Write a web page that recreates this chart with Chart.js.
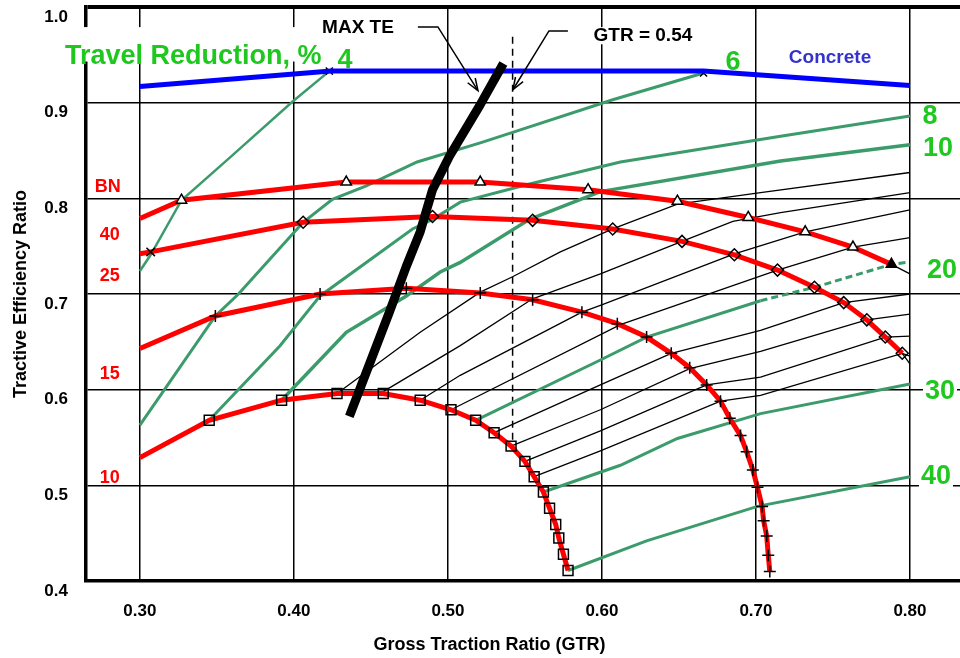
<!DOCTYPE html>
<html>
<head>
<meta charset="utf-8">
<script src="https://cdn.jsdelivr.net/npm/chart.js@4.4.1/dist/chart.umd.min.js"></script>
<style>
  html, body { margin: 0; padding: 0; background: #fff; }
  #wrap { width: 960px; height: 658px; }
</style>
</head>
<body>
<div id="wrap"><canvas id="techart"></canvas></div>
<script>
// axis ticks
var xTicks = [0.30, 0.40, 0.50, 0.60, 0.70, 0.80];
var yTicks = [0.4, 0.5, 0.6, 0.7, 0.8, 0.9, 1.0];

// concrete surface
var concrete = [[0.300, 0.917], [0.424, 0.933], [0.666, 0.933], [0.800, 0.918]];

// mobility number (BN) curves, [GTR, TE]
var bn40 = [[0.300, 0.779], [0.327, 0.798], [0.434, 0.817], [0.521, 0.817], [0.591, 0.809], [0.649, 0.797],
            [0.695, 0.780], [0.732, 0.765], [0.763, 0.749], [0.788, 0.731]];
var bn25 = [[0.300, 0.742], [0.307, 0.744], [0.406, 0.775], [0.490, 0.781], [0.555, 0.777], [0.607, 0.768],
            [0.652, 0.755], [0.686, 0.741], [0.714, 0.725], [0.738, 0.707], [0.757, 0.691], [0.772, 0.673],
            [0.784, 0.655], [0.795, 0.638]];
var bn15 = [[0.300, 0.643], [0.349, 0.677], [0.417, 0.700], [0.473, 0.706], [0.521, 0.701], [0.555, 0.694],
            [0.587, 0.681], [0.610, 0.669], [0.629, 0.655], [0.645, 0.638], [0.657, 0.623], [0.668, 0.605],
            [0.677, 0.588], [0.683, 0.570], [0.690, 0.552], [0.694, 0.535], [0.698, 0.516], [0.701, 0.498],
            [0.704, 0.478], [0.705, 0.463], [0.707, 0.447], [0.708, 0.427], [0.709, 0.410]];
var bn10 = [[0.300, 0.529], [0.345, 0.568], [0.392, 0.589], [0.428, 0.596], [0.458, 0.596], [0.482, 0.589],
            [0.502, 0.579], [0.518, 0.568], [0.530, 0.555], [0.541, 0.541], [0.550, 0.525], [0.556, 0.509],
            [0.562, 0.493], [0.566, 0.476], [0.570, 0.459], [0.572, 0.445], [0.575, 0.428], [0.578, 0.411]];
var bn40Tail = [[0.788, 0.731], [0.800, 0.721]];
var bn25Tail = [[0.795, 0.638], [0.800, 0.627]];

// travel reduction lines, %
var tr4  = [[0.300, 0.724], [0.307, 0.741], [0.327, 0.798], [0.358, 0.842], [0.399, 0.901], [0.423, 0.933]];
var tr6  = [[0.300, 0.563], [0.349, 0.677], [0.364, 0.700], [0.406, 0.775], [0.425, 0.799], [0.447, 0.813],
            [0.480, 0.838], [0.521, 0.858], [0.542, 0.869], [0.607, 0.903], [0.666, 0.931]];
var tr8  = [[0.345, 0.568], [0.391, 0.646], [0.417, 0.698], [0.477, 0.768], [0.490, 0.778], [0.508, 0.796],
            [0.553, 0.815], [0.612, 0.838], [0.716, 0.865], [0.800, 0.886]];
var tr10 = [[0.392, 0.589], [0.434, 0.660], [0.473, 0.698], [0.495, 0.723], [0.508, 0.733], [0.553, 0.778],
            [0.599, 0.807], [0.716, 0.839], [0.800, 0.856]];
var tr12 = [[0.428, 0.596], [0.482, 0.660], [0.521, 0.702], [0.542, 0.718], [0.573, 0.744], [0.607, 0.768],
            [0.649, 0.794], [0.703, 0.806], [0.800, 0.827]];
var tr14 = [[0.458, 0.598], [0.508, 0.646], [0.555, 0.695], [0.599, 0.721], [0.652, 0.755], [0.685, 0.776],
            [0.716, 0.785], [0.800, 0.806]];
var tr16 = [[0.482, 0.589], [0.508, 0.615], [0.587, 0.681], [0.599, 0.688], [0.686, 0.742], [0.732, 0.765],
            [0.800, 0.788]];
var tr18 = [[0.502, 0.579], [0.612, 0.668], [0.714, 0.725], [0.763, 0.749], [0.800, 0.759]];
var tr20 = [[0.518, 0.568], [0.599, 0.631], [0.629, 0.655], [0.703, 0.693], [0.738, 0.707], [0.788, 0.731],
            [0.798, 0.733]];
var tr22 = [[0.530, 0.555], [0.599, 0.605], [0.645, 0.638], [0.703, 0.662], [0.757, 0.691], [0.800, 0.700]];
var tr24 = [[0.541, 0.541], [0.599, 0.579], [0.657, 0.622], [0.703, 0.640], [0.772, 0.673], [0.800, 0.679]];
var tr26 = [[0.550, 0.525], [0.599, 0.557], [0.668, 0.605], [0.703, 0.613], [0.784, 0.655], [0.800, 0.656]];
var tr28 = [[0.556, 0.509], [0.599, 0.536], [0.677, 0.588], [0.703, 0.594], [0.795, 0.638], [0.800, 0.635]];
var tr30 = [[0.562, 0.493], [0.612, 0.521], [0.649, 0.549], [0.703, 0.575], [0.800, 0.606]];
var tr40 = [[0.578, 0.411], [0.629, 0.442], [0.701, 0.478], [0.800, 0.509]];

// max tractive efficiency line and GTR = 0.54 marker
var maxTE = [[0.436, 0.572], [0.462, 0.681], [0.473, 0.729], [0.482, 0.765], [0.490, 0.809], [0.501, 0.844],
             [0.521, 0.898], [0.536, 0.941]];
var gtrLine = [[0.542, 0.969], [0.542, 0.542]];

var FONT = '"Liberation Sans", Arial, Helvetica, sans-serif';
var GREEN_LINE = '#3b9b6b';
var GREEN_TEXT = '#1ec81e';
var RED = '#ff0000';

function pts(a) { return a.map(function (p) { return { x: p[0], y: p[1] }; }); }
function fill(n, first, rest) { var r = [first]; for (var i = 1; i < n; i++) r.push(rest); return r; }

var notes = [
  { t: 'Travel Reduction, %', x: 0.2513, y: 0.948, c: GREEN_TEXT, s: 27, a: 'left' },
  { t: '4', x: 0.4331, y: 0.944, c: GREEN_TEXT, s: 27 },
  { t: '6', x: 0.6851, y: 0.942, c: GREEN_TEXT, s: 27 },
  { t: '8', x: 0.8130, y: 0.886, c: GREEN_TEXT, s: 27 },
  { t: '10', x: 0.8182, y: 0.852, c: GREEN_TEXT, s: 27 },
  { t: '20', x: 0.8208, y: 0.724, c: GREEN_TEXT, s: 27 },
  { t: '30', x: 0.8195, y: 0.598, c: GREEN_TEXT, s: 27, bg: true },
  { t: '40', x: 0.8169, y: 0.509, c: GREEN_TEXT, s: 27, bg: true },
  { t: 'Concrete', x: 0.7481, y: 0.947, c: '#3333cc', s: 19 },
  { t: 'MAX TE', x: 0.4416, y: 0.978, c: '#000', s: 19 },
  { t: 'GTR = 0.54', x: 0.6266, y: 0.970, c: '#000', s: 19, bg: true },
  { t: 'BN', x: 0.2792, y: 0.8115, c: RED, s: 18 },
  { t: '40', x: 0.2805, y: 0.7615, c: RED, s: 18 },
  { t: '25', x: 0.2805, y: 0.7188, c: RED, s: 18 },
  { t: '15', x: 0.2805, y: 0.6167, c: RED, s: 18 },
  { t: '10', x: 0.2805, y: 0.5073, c: RED, s: 18 }
];
// white box behind the "Travel Reduction, % 4" caption, [x0, y0, x1, y1] in data units
var captionBox = [0.2493, 0.979, 0.4470, 0.943];
var leaders = [
  [[0.4805, 0.9792], [0.4935, 0.9792], [0.5195, 0.9125]],
  [[0.5779, 0.9750], [0.5656, 0.9750], [0.5422, 0.9135]]
];

function fontOf(n) { return 'bold ' + n.s + 'px ' + FONT; }

var notesPlugin = {
  id: 'notes',
  beforeDatasetsDraw: function (chart) {
    var ctx = chart.ctx, xs = chart.scales.x, ys = chart.scales.y;
    ctx.save();
    ctx.fillStyle = '#fff';
    var x0 = xs.getPixelForValue(captionBox[0]), y0 = ys.getPixelForValue(captionBox[1]);
    ctx.fillRect(x0, y0, xs.getPixelForValue(captionBox[2]) - x0, ys.getPixelForValue(captionBox[3]) - y0);
    notes.forEach(function (n) {
      if (!n.bg) return;
      ctx.font = fontOf(n);
      var w = ctx.measureText(n.t).width + 4, h = n.s * 0.9;
      ctx.fillRect(xs.getPixelForValue(n.x) - w / 2, ys.getPixelForValue(n.y) - h / 2, w, h);
    });
    ctx.restore();
  },
  afterDraw: function (chart) {
    var ctx = chart.ctx, xs = chart.scales.x, ys = chart.scales.y;
    ctx.save();
    ctx.textBaseline = 'middle';
    notes.forEach(function (n) {
      ctx.font = fontOf(n);
      ctx.fillStyle = n.c;
      ctx.textAlign = n.a || 'center';
      ctx.fillText(n.t, xs.getPixelForValue(n.x), ys.getPixelForValue(n.y));
    });
    ctx.strokeStyle = '#000';
    ctx.lineWidth = 1.5;
    leaders.forEach(function (l) {
      var p = l.map(function (q) { return [xs.getPixelForValue(q[0]), ys.getPixelForValue(q[1])]; });
      ctx.beginPath();
      ctx.moveTo(p[0][0], p[0][1]);
      for (var i = 1; i < p.length; i++) ctx.lineTo(p[i][0], p[i][1]);
      ctx.stroke();
      var a = p[p.length - 1], b = p[p.length - 2];
      var ang = Math.atan2(a[1] - b[1], a[0] - b[0]), len = 13;
      ctx.beginPath();
      ctx.moveTo(a[0] - len * Math.cos(ang - 0.35), a[1] - len * Math.sin(ang - 0.35));
      ctx.lineTo(a[0], a[1]);
      ctx.lineTo(a[0] - len * Math.cos(ang + 0.35), a[1] - len * Math.sin(ang + 0.35));
      ctx.stroke();
    });
    // x axis title
    ctx.font = 'bold 18px ' + FONT;
    ctx.fillStyle = '#000';
    ctx.textAlign = 'center';
    ctx.fillText('Gross Traction Ratio (GTR)', xs.getPixelForValue(0.527), chart.chartArea.bottom + 64);
    ctx.restore();
  }
};

function travelLine(data, color, width, extra) {
  var d = { data: pts(data), borderColor: color, borderWidth: width, pointRadius: 0, showLine: true, order: color === '#000' ? 5 : 4 };
  if (extra) for (var k in extra) d[k] = extra[k];
  return d;
}

var endMark = function (n) {
  return { pointRadius: fill(n, 0, 0).map(function (v, i) { return i === n - 1 ? 5 : 0; }),
           pointStyle: 'crossRot', pointBorderColor: '#000', pointBorderWidth: 1.5 };
};

var datasets = [
  { data: pts(maxTE), borderColor: '#000', borderWidth: 9, borderJoinStyle: 'round', pointRadius: 0, showLine: true, order: 0 },
  { data: pts(bn40), borderColor: RED, borderWidth: 5, showLine: true, order: 1,
    pointStyle: 'triangle', pointRadius: fill(bn40.length, 0, 6), pointBorderColor: '#000', pointBorderWidth: 1.5,
    pointBackgroundColor: bn40.map(function (p, i) { return i === bn40.length - 1 ? '#000' : '#fff'; }) },
  { data: pts(bn25), borderColor: RED, borderWidth: 5, showLine: true, order: 1,
    pointStyle: fill(bn25.length, 'circle', 'rectRot').map(function (s, i) { return i === 1 ? 'crossRot' : s; }),
    pointRadius: fill(bn25.length, 0, 6), pointBorderColor: '#000', pointBorderWidth: 1.5, pointBackgroundColor: 'rgba(255,255,255,0)' },
  { data: pts(bn15), borderColor: RED, borderWidth: 5, showLine: true, order: 1,
    pointStyle: 'cross', pointRadius: fill(bn15.length, 0, 6), pointBorderColor: '#000', pointBorderWidth: 1.5 },
  { data: pts(bn10), borderColor: RED, borderWidth: 5, showLine: true, order: 1,
    pointStyle: 'rect', pointRadius: fill(bn10.length, 0, 7), pointBorderColor: '#000', pointBorderWidth: 1.5,
    pointBackgroundColor: 'rgba(255,255,255,0)' },
  { data: pts(concrete), borderColor: '#0000ff', borderWidth: 5, pointRadius: 0, showLine: true, order: 2 },
  travelLine(bn40Tail, '#000', 1.3),
  travelLine(bn25Tail, '#000', 1.3),
  travelLine(tr4, GREEN_LINE, 2.5, endMark(tr4.length)),
  travelLine(tr6, GREEN_LINE, 3, endMark(tr6.length)),
  travelLine(tr8, GREEN_LINE, 3),
  travelLine(tr10, GREEN_LINE, 3.5),
  travelLine(tr12, '#000', 1.3),
  travelLine(tr14, '#000', 1.3),
  travelLine(tr16, '#000', 1.3),
  travelLine(tr18, '#000', 1.3),
  travelLine(tr20, GREEN_LINE, 3, { segment: { borderDash: function (c) { return c.p0.parsed.x >= 0.70 ? [7, 4] : undefined; } } }),
  travelLine(tr22, '#000', 1.3),
  travelLine(tr24, '#000', 1.3),
  travelLine(tr26, '#000', 1.3),
  travelLine(tr28, '#000', 1.3),
  travelLine(tr30, GREEN_LINE, 3),
  travelLine(tr40, GREEN_LINE, 3),
  { data: pts(gtrLine), borderColor: '#000', borderWidth: 1.5, borderDash: [7, 5], pointRadius: 0, showLine: true, order: 6 }
];

var ctx = document.getElementById('techart').getContext('2d');
var techart = new Chart(ctx, {
  type: 'scatter',
  data: { datasets: datasets },
  options: {
    responsive: true,
    maintainAspectRatio: false,
    animation: false,
    layout: { autoPadding: false, padding: { top: 7, left: 0, right: 0, bottom: 0 } },
    plugins: { legend: { display: false }, tooltip: { enabled: false } },
    scales: {
      x: {
        type: 'linear', min: 0.265, max: 0.8325,
        afterBuildTicks: function (axis) { axis.ticks = xTicks.map(function (v) { return { value: v }; }); },
        afterFit: function (axis) { axis.height = 77; axis.paddingLeft = 0; axis.paddingRight = 0; },
        grid: { color: '#000', lineWidth: 1.5, drawTicks: false },
        border: { color: '#000', width: 3.5 },
        ticks: { color: '#000', padding: 20, font: { family: FONT, size: 17, weight: 'bold' },
                 callback: function (v) { return v.toFixed(2); } }
      },
      y: {
        type: 'linear', min: 0.4, max: 1.0,
        afterBuildTicks: function (axis) { axis.ticks = yTicks.map(function (v) { return { value: v }; }); },
        afterFit: function (axis) { axis.width = 86; axis.paddingTop = 0; axis.paddingBottom = 0; },
        grid: { color: '#000', lineWidth: function (c) { return c.tick && c.tick.value === 1.0 ? 4 : 1.5; }, drawTicks: false },
        border: { color: '#000', width: 3.5 },
        ticks: { color: '#000', padding: 18, labelOffset: 10, font: { family: FONT, size: 17, weight: 'bold' },
                 callback: function (v) { return v.toFixed(1); } },
        title: { display: true, text: 'Tractive Efficiency Ratio', color: '#000',
                 font: { family: FONT, size: 18, weight: 'bold' }, padding: { top: 10, bottom: 4 } }
      }
    }
  },
  plugins: [notesPlugin]
});
</script>
</body>
</html>
